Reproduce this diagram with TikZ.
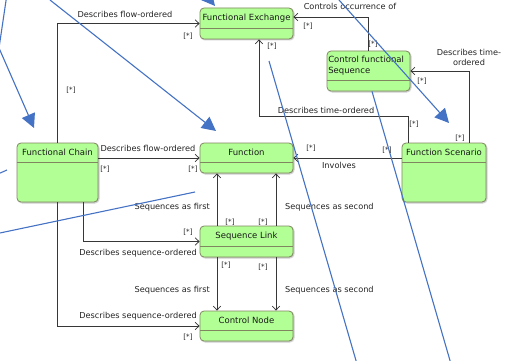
\documentclass[tikz,border=0pt]{standalone}
\usepackage{fontspec}
\setmainfont{DejaVu Sans}
\usepackage{tikz}
\usetikzlibrary{arrows.meta,shadows.blur}
\definecolor{clsfill}{RGB}{178,255,150}
\definecolor{clsdraw}{RGB}{128,134,96}
\definecolor{linkgray}{RGB}{55,55,55}
\definecolor{txtgray}{RGB}{35,35,35}
\definecolor{noteblue}{RGB}{68,114,196}

\begin{document}
\begin{tikzpicture}[x=1pt, y=-1pt, >={Straight Barb[length=4pt,width=7.5pt]},
	cls/.style={draw=clsdraw, fill=clsfill, line width=0.8pt, rounded corners=4pt, inner sep=0pt,
		blur shadow={shadow xshift=1pt, shadow yshift=-1pt, shadow blur radius=1pt, shadow opacity=30}},
	clstitle/.style={anchor=north, inner sep=0pt, font=\fontsize{8.5}{10.8}\selectfont, text=black!90},
	sepline/.style={draw=clsdraw, line width=0.8pt},
	assoc/.style={draw=linkgray, line width=0.75pt, ->},
	rolelbl/.style={inner sep=0pt, font=\fontsize{8.2}{10}\selectfont, text=txtgray},
	mult/.style={inner sep=0pt, font=\fontsize{7.2}{8}\selectfont, text=txtgray},
	bluenote/.style={draw=noteblue, line width=1.1pt},
	bluetip/.style={-{Triangle[length=14pt,width=14pt]}}]
	\useasboundingbox (0,0) rectangle (514,361);
	% 类框
	\node[cls, minimum width=93, minimum height=31] (fx) at (246.5,23.5) {};
	\node[cls, minimum width=83, minimum height=40] (cfs) at (368.5,71) {};
	\node[cls, minimum width=81, minimum height=59] (fc) at (57.5,172.5) {};
	\node[cls, minimum width=93, minimum height=30] (fn) at (246.5,158) {};
	\node[cls, minimum width=84, minimum height=59] (fs) at (444,172.5) {};
	\node[cls, minimum width=93, minimum height=31] (sl) at (246.5,241.5) {};
	\node[cls, minimum width=93, minimum height=30] (cn) at (246.5,326) {};
	% 类名
	\node[clstitle, minimum height=20] (fx-t) at (fx.north) {Functional Exchange};
	\node[clstitle, minimum height=29, anchor=north west, align=left, xshift=1.5pt] (cfs-t) at (cfs.north west) {Control functional\\Sequence};
	\node[clstitle, minimum height=19] (fc-t) at (fc.north) {Functional Chain};
	\node[clstitle, minimum height=19] (fn-t) at (fn.north) {Function};
	\node[clstitle, minimum height=19] (fs-t) at (fs.north) {Function Scenario};
	\node[clstitle, minimum height=20] (sl-t) at (sl.north) {Sequence Link};
	\node[clstitle, minimum height=19] (cn-t) at (cn.north) {Control Node};
	% 分隔线
	\draw[sepline] (fx-t.south -| fx.west) -- (fx-t.south -| fx.east);
	\draw[sepline] (cfs-t.south -| cfs.west) -- (cfs-t.south -| cfs.east);
	\draw[sepline] (fc-t.south -| fc.west) -- (fc-t.south -| fc.east);
	\draw[sepline] (fn-t.south -| fn.west) -- (fn-t.south -| fn.east);
	\draw[sepline] (fs-t.south -| fs.west) -- (fs-t.south -| fs.east);
	\draw[sepline] (sl-t.south -| sl.west) -- (sl-t.south -| sl.east);
	\draw[sepline] (cn-t.south -| cn.west) -- (cn-t.south -| cn.east);
	% 关联线
	\draw[assoc] (fc.north) |- (fx.west);
	\draw[assoc] (fc.east |- fn.west) -- (fn.west);
	\draw[assoc] ([xshift=25.5pt]fc.south) |- (sl.west);
	\draw[assoc] (fc.south) |- (cn.west);
	\draw[assoc] ([xshift=-29.5pt]sl.north) -- ([xshift=-29.5pt]fn.south);
	\draw[assoc] ([xshift=29.5pt]sl.north) -- ([xshift=29.5pt]fn.south);
	\draw[assoc] ([xshift=-29.5pt]sl.south) -- ([xshift=-29.5pt]cn.north);
	\draw[assoc] ([xshift=29.5pt]sl.south) -- ([xshift=29.5pt]cn.north);
	\draw[assoc] (cfs.north) |- ([yshift=6.5pt]fx.east);
	\draw[assoc] ([xshift=25pt]fs.north) |- (cfs.east);
	\draw[assoc] ([xshift=-36pt]fs.north) -- ++(0,-26) -| ([xshift=12.5pt]fx.south);
	\draw[assoc] (fs.west |- fn.east) -- (fn.east);
	% 关联名
	\node[rolelbl] (l-fcfx) at (125,14) {Describes flow-ordered};
	\node[rolelbl] (l-fcfn) at (148,148) {Describes flow-ordered};
	\node[rolelbl, anchor=east] (l-fcsl) at (197,253) {Describes sequence-ordered};
	\node[rolelbl, anchor=east] (l-fccn) at (197,316) {Describes sequence-ordered};
	\node[rolelbl, anchor=east] (l-first1) at (210,207) {Sequences as first};
	\node[rolelbl, anchor=west] (l-second1) at (285,207) {Sequences as second};
	\node[rolelbl, anchor=east] (l-first2) at (210,290) {Sequences as first};
	\node[rolelbl, anchor=west] (l-second2) at (285,290) {Sequences as second};
	\node[rolelbl] (l-ctrl) at (350,6) {Controls occurrence of};
	\node[rolelbl, align=center] (l-fscfs) at (469,57) {Describes time-\\ordered};
	\node[rolelbl] (l-fsfx) at (326,110) {Describes time-ordered};
	\node[rolelbl] (l-inv) at (339,165) {Involves};
	% 多重性
	\node[mult] (m1) at (188,36) {[*]};
	\node[mult] (m2) at (71,90) {[*]};
	\node[mult] (m3) at (105,169) {[*]};
	\node[mult] (m4) at (193,169) {[*]};
	\node[mult] (m5) at (188,232) {[*]};
	\node[mult] (m6) at (188,337) {[*]};
	\node[mult] (m7) at (230,222) {[*]};
	\node[mult] (m8) at (263,222) {[*]};
	\node[mult] (m9) at (226,265) {[*]};
	\node[mult] (m10) at (263,267) {[*]};
	\node[mult] (m11) at (308,26) {[*]};
	\node[mult] (m12) at (373,44) {[*]};
	\node[mult] (m13) at (422,81) {[*]};
	\node[mult] (m14) at (460,138) {[*]};
	\node[mult] (m15) at (414,124) {[*]};
	\node[mult] (m16) at (272,46) {[*]};
	\node[mult] (m17) at (311,148) {[*]};
	\node[mult] (m18) at (387,150) {[*]};
	% 蓝色标注线
	\coordinate (b1) at (7,-6);
	\coordinate (b1k) at (-1,48);
	\coordinate (b1e) at (34,128);
	\coordinate (b2) at (50,0);
	\coordinate (b2e) at (216,131);
	\coordinate (b3) at (160,-60);
	\coordinate (b3e) at (215,6);
	\coordinate (b4) at (339,0);
	\coordinate (b4e) at (449,123);
	\coordinate (b5e) at (451,364);
	\coordinate (b6) at (269,61);
	\coordinate (b6e) at (357,364);
	\coordinate (b7) at (-2,233.4);
	\coordinate (b7e) at (195,192);
	\coordinate (b8) at (-2,174);
	\coordinate (b8e) at (7,170);
	\draw[bluenote, bluetip] (b1) -- (b1k) -- (b1e);
	\draw[bluenote, bluetip] (b2) -- (b2e);
	\draw[bluenote, bluetip] (b3) -- (b3e);
	\draw[bluenote, bluetip] (b4) -- (b4e);
	\draw[bluenote] ([xshift=3.5pt]cfs.south) -- (b5e);
	\draw[bluenote] (b6) -- (b6e);
	\draw[bluenote] (b7) -- (b7e);
	\draw[bluenote] (b8) -- (b8e);
\end{tikzpicture}
\end{document}
